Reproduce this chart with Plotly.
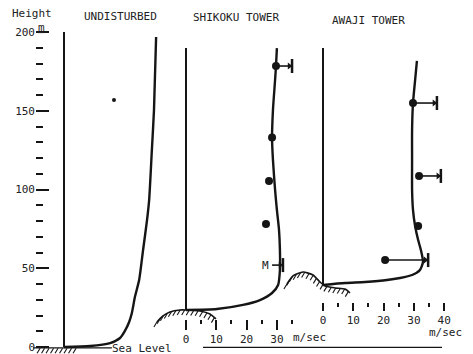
import math
import plotly.graph_objects as go

# ---------------- data (wind speed m/sec, height m) ----------------
und_height = [0, 0.6, 2.5, 5.7, 10.2, 15.9, 21.6, 31.7, 42.5, 61.6, 80.6, 93.3, 125.1, 150.5, 196.8]
und_speed = [0, 8.6, 15.2, 18.5, 20.1, 21.5, 22.4, 23.4, 24.8, 26.1, 27.4, 28.1, 29.0, 29.7, 30.4]
und_mast = [0, 200]
und_speck_speed = [16.5]
und_speck_height = [156.8]

shi_height = [23.5, 24.1, 26.7, 29.8, 34.3, 39.4, 48.9, 61.6, 74.3, 87.0, 99.7, 118.7, 132.7, 150.5, 169.5, 178.4, 189.8]
shi_speed = [0, 10.2, 18.8, 24.4, 28.4, 30.4, 31.0, 31.0, 30.7, 30.0, 29.4, 28.7, 28.4, 28.7, 29.4, 29.7, 30.0]
shi_mast = [23.5, 189.8]
shi_obs_height = [178.4, 133.0, 105.4, 78.1]
shi_obs_speed = [29.7, 28.4, 27.4, 26.4]
shi_bar_height = [178.4, 52.0]
shi_bar_from = [29.7, 28.4]
shi_bar_to = [35.0, 32.0]
shi_mean_label = "M"
shi_mean_speed = 26.1
shi_mean_height = 52.0

awa_height = [39.4, 40.6, 41.3, 42.5, 43.8, 45.7, 48.9, 54.0, 61.6, 67.9, 76.8, 87.0, 99.7, 118.7, 137.8, 154.9, 169.5, 181.6]
awa_speed = [0, 7.3, 13.9, 21.1, 25.4, 29.4, 32.0, 33.0, 32.3, 31.4, 30.4, 29.7, 29.4, 29.4, 29.4, 29.7, 30.4, 31.0]
awa_mast = [39.4, 189.8]
awa_obs_height = [154.9, 108.6, 76.8, 55.2]
awa_obs_speed = [29.7, 31.7, 31.4, 20.5]
awa_bar_height = [154.9, 108.6, 55.2]
awa_bar_from = [29.7, 31.7, 20.5]
awa_bar_to = [37.6, 38.9, 34.7]

# ground outlines (speed offset, height)
und_ground_speed = [-7.9, 4.6]
und_ground_height = [-0.8, -0.8]
und_base_speed = [-10.2, 15.8]
und_base_height = [-0.6, -0.6]
shi_ground_speed = [-9.6, -7.6, -5.3, -2.0, 0.0, 4.6, 7.9, 9.9]
shi_ground_height = [15.9, 19.7, 22.2, 23.5, 23.5, 22.9, 21.0, 17.8]
awa_ground_speed = [-11.9, -9.9, -6.6, -3.3, -1.0, 0.7, 4.0, 7.3, 8.9]
awa_ground_height = [40.0, 45.1, 47.6, 45.7, 41.3, 38.7, 37.5, 36.8, 34.3]

height_ticks = [0, 50, 100, 150, 200]
height_minor = [v for v in range(10, 200, 10) if v % 50]
shi_ticks = [0, 10, 20, 30]
shi_minor = [5, 15, 25, 35]
awa_ticks = [0, 10, 20, 30, 40]
awa_minor = [5, 15, 25, 35]

titles = ["Height", "UNDISTURBED", "SHIKOKU TOWER", "AWAJI TOWER"]

# ---------------- layout constants ----------------
W, H = 473, 354
PX = 3.03     # px per m/sec
PY = 1.575    # px per m
Y0 = 347      # pixel row of height 0
und_origin, shi_origin, awa_origin = 64, 186, 323
INK = "#151515"
FONT = "DejaVu Sans Mono"

ymin = -(H - Y0) / PY
ymax = Y0 / PY


def xr(origin):
    return [-origin / PX, (W - origin) / PX]


def hatch(xs, ys, step=4.5, dxp=-3.0, dyp=5.0):
    hx, hy = [], []
    pts = [(x * PX, y * PY) for x, y in zip(xs, ys)]
    carry = 0.0
    for (x1, y1), (x2, y2) in zip(pts[:-1], pts[1:]):
        seg = math.hypot(x2 - x1, y2 - y1)
        d = carry
        while d <= seg:
            t = d / seg if seg else 0
            px = x1 + (x2 - x1) * t
            py = y1 + (y2 - y1) * t
            hx += [px / PX, (px + dxp) / PX, None]
            hy += [py / PY, (py - dyp) / PY, None]
            d += step
        carry = d - seg
    return hx, hy


fig = go.Figure()


def line(x, y, xa, width=2.2):
    fig.add_trace(go.Scatter(x=x, y=y, xaxis=xa, yaxis="y", mode="lines",
                             line=dict(color=INK, width=width, shape="spline", smoothing=0.6),
                             hoverinfo="skip"))


def straight(x, y, xa, width=1.6):
    fig.add_trace(go.Scatter(x=x, y=y, xaxis=xa, yaxis="y", mode="lines",
                             line=dict(color=INK, width=width), hoverinfo="skip"))


def dots(x, y, xa, size=8):
    fig.add_trace(go.Scatter(x=x, y=y, xaxis=xa, yaxis="y", mode="markers",
                             marker=dict(color=INK, size=size), hoverinfo="skip"))


def bars(h, f, t, xa):
    bx, by = [], []
    for hh, ff, tt in zip(h, f, t):
        bx += [ff, tt, None]
        by += [hh, hh, None]
    straight(bx, by, xa, width=1.6)
    fig.add_trace(go.Scatter(x=t, y=h, xaxis=xa, yaxis="y", mode="markers",
                             marker=dict(symbol="line-ns", size=10, line=dict(color=INK, width=2.5)),
                             hoverinfo="skip"))
    fig.add_trace(go.Scatter(x=[v - 0.9 for v in t], y=h, xaxis=xa, yaxis="y", mode="markers",
                             marker=dict(symbol="triangle-right", size=6, color=INK),
                             hoverinfo="skip"))


# Undisturbed
straight([0, 0], und_mast, "x", width=2)
line(und_speed, und_height, "x", width=2.4)
straight(und_base_speed, und_base_height, "x", width=1.3)
hx, hy = hatch(und_ground_speed, und_ground_height)
straight(hx, hy, "x", width=1.1)
dots(und_speck_speed, und_speck_height, "x", size=4)

# Shikoku
straight([0, 0], shi_mast, "x2", width=2)
line(shi_speed, shi_height, "x2", width=2.4)
line(shi_ground_speed, shi_ground_height, "x2", width=1.6)
hx, hy = hatch(shi_ground_speed, shi_ground_height)
straight(hx, hy, "x2", width=1.1)
dots(shi_obs_speed, shi_obs_height, "x2")
bars(shi_bar_height, shi_bar_from, shi_bar_to, "x2")

# Awaji
straight([0, 0], awa_mast, "x3", width=2)
line(awa_speed, awa_height, "x3", width=2.4)
line(awa_ground_speed, awa_ground_height, "x3", width=1.6)
hx, hy = hatch(awa_ground_speed, awa_ground_height)
straight(hx, hy, "x3", width=1.1)
dots(awa_obs_speed, awa_obs_height, "x3")
bars(awa_bar_height, awa_bar_from, awa_bar_to, "x3")

# sea level line
fig.add_shape(type="line", xref="paper", yref="y", x0=203 / W, x1=442 / W, y0=-0.3, y1=-0.3,
              line=dict(color=INK, width=1.3))

tickfont = dict(family=FONT, size=11, color="#222")
fig.update_layout(
    width=W, height=H, autosize=False,
    margin=dict(l=0, r=0, t=0, b=0, pad=0),
    paper_bgcolor="white", plot_bgcolor="white", showlegend=False,
    xaxis=dict(domain=[0, 1], range=xr(und_origin), visible=False, fixedrange=True),
    xaxis2=dict(overlaying="x", range=xr(shi_origin), anchor="free", position=1 - 319 / H,
                showline=False, showgrid=False, zeroline=False,
                tickvals=shi_ticks, ticks="outside", ticklen=10, tickwidth=1.8, tickcolor=INK,
                minor=dict(tickvals=shi_minor, ticks="outside", ticklen=4, tickwidth=1.5, tickcolor=INK),
                tickfont=tickfont),
    xaxis3=dict(overlaying="x", range=xr(awa_origin), anchor="free", position=1 - 302 / H,
                showline=False, showgrid=False, zeroline=False,
                tickvals=awa_ticks, ticks="outside", ticklen=8, tickwidth=1.8, tickcolor=INK,
                minor=dict(tickvals=awa_minor, ticks="outside", ticklen=4, tickwidth=1.5, tickcolor=INK),
                tickfont=tickfont),
    yaxis=dict(domain=[0, 1], range=[ymin, ymax], anchor="free", position=35 / W,
               showline=False, showgrid=False, zeroline=False,
               tickvals=height_ticks, ticks="inside", ticklen=13, tickwidth=1.6, tickcolor=INK,
               minor=dict(tickvals=height_minor, ticks="inside", ticklen=7, tickwidth=1.6, tickcolor=INK),
               tickfont=tickfont),
)

tfont = dict(family=FONT, size=11, color="#222")
anns = [
    (32, 14, titles[0]),
    (120, 17, titles[1]),
    (236, 18, titles[2]),
    (368, 21, titles[3]),
    (41, 27, "<u>m</u>"),
    (309, 337, "m/sec"),
    (445, 332, "m/sec"),
    (142, 348, "Sea Level"),
]
for x, y, t in anns:
    fig.add_annotation(x=x / W, y=1 - y / H, xref="paper", yref="paper", text=t, showarrow=False,
                       font=tfont, xanchor="center", yanchor="middle")
fig.add_annotation(x=shi_mean_speed, y=shi_mean_height, xref="x2", yref="y", text=shi_mean_label,
                   showarrow=False, font=tfont, xanchor="center", yanchor="middle")

fig.write_html("out.html", config={"displayModeBar": False},
               post_script="document.body.style.margin='0';document.body.style.overflow='hidden';")
